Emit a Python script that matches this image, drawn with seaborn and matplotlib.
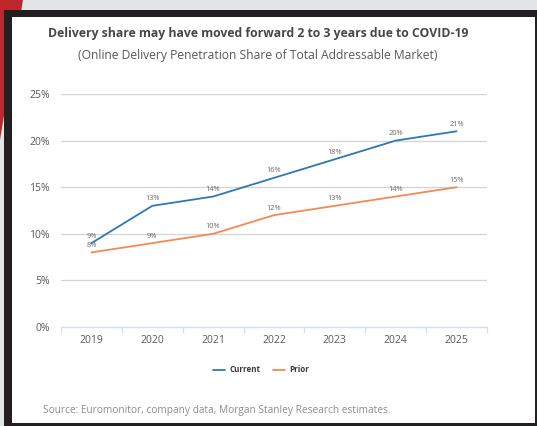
import matplotlib
matplotlib.use("Agg")
import matplotlib.pyplot as plt
from matplotlib.patches import Rectangle, Polygon
import numpy as np
import pandas as pd
import seaborn as sns

years = ["2019", "2020", "2021", "2022", "2023", "2024", "2025"]
current = [9, 13, 14, 16, 18, 20, 21]
prior = [8, 9, 10, 12, 13, 14, 15]
series_names = ["Current", "Prior"]
colors = ["#2f78b7", "#f58a50"]

title = "Delivery share may have moved forward 2 to 3 years due to COVID-19"
subtitle = "(Online Delivery Penetration Share of Total Addressable Market)"
source = "Source: Euromonitor, company data, Morgan Stanley Research estimates."

df = pd.DataFrame({
    "year": years * 2,
    "share": [v / 100 for v in current + prior],
    "series": [series_names[0]] * len(years) + [series_names[1]] * len(years),
})

sns.set_theme(style="white")
plt.rcParams["font.family"] = ["Open Sans", "DejaVu Sans"]

W, H = 537, 426
fig = plt.figure(figsize=(W / 100, H / 100), dpi=100)
fig.patch.set_facecolor("#e3e5e7")

def fx(px):
    return px / W

def fy(py):
    return 1 - py / H

# Slide decoration: red corner, dark frame and white card
fig.patches.append(Polygon([(fx(0), fy(0)), (fx(23), fy(0)), (fx(0), fy(140))],
                           closed=True, transform=fig.transFigure,
                           facecolor="#c0272d", edgecolor="none", zorder=0))
fig.patches.append(Rectangle((fx(4), fy(426)), fx(533), fy(10) - fy(426),
                             transform=fig.transFigure, facecolor="#231f20",
                             edgecolor="none", zorder=1))
fig.patches.append(Rectangle((fx(12), fy(423)), fx(535) - fx(12), fy(17) - fy(423),
                             transform=fig.transFigure, facecolor="white",
                             edgecolor="none", zorder=2))

ax = fig.add_axes([fx(61), fy(327), fx(487) - fx(61), fy(94) - fy(327)])
ax.set_facecolor("none")
ax.set_zorder(3)

sns.lineplot(data=df, x="year", y="share", hue="series", palette=colors,
             linewidth=1.3, ax=ax, legend=True, sort=False)

ax.set_ylim(0, 0.25)
ax.set_xlim(-0.5, len(years) - 0.5)
ax.set_yticks(np.arange(0, 0.26, 0.05))
ax.set_yticklabels([f"{int(round(v * 100))}%" for v in np.arange(0, 0.26, 0.05)])
ax.yaxis.grid(True, color="#d4d4d4", linewidth=0.9)
ax.set_axisbelow(True)
ax.set_xlabel("")
ax.set_ylabel("")

for side in ["top", "right", "left"]:
    ax.spines[side].set_visible(False)
ax.spines["bottom"].set_color("#d5dfe9")
ax.spines["bottom"].set_linewidth(1.0)

ax.set_xticks(np.arange(-0.5, len(years), 1.0), minor=True)
ax.tick_params(axis="x", which="minor", length=4.5, width=0.9, color="#d5dfe9", bottom=True)
ax.tick_params(axis="x", which="major", length=0, pad=6, labelsize=7.5, labelcolor="#595959")
ax.tick_params(axis="y", length=0, pad=8, labelsize=7.5, labelcolor="#595959")

# Value labels above each point
for vals in (current, prior):
    for i, v in enumerate(vals):
        ax.annotate(f"{v}%", (i, v / 100), xytext=(0, 2.5), textcoords="offset points",
                    ha="center", va="bottom", fontsize=5.3, color="#6a6a6a")

handles, labels = ax.get_legend_handles_labels()
ax.legend_.remove()
leg = fig.legend(handles, labels, loc="center", bbox_to_anchor=(fx(261), fy(370)),
                 ncol=2, frameon=False, handlelength=1.5, columnspacing=1.6,
                 handletextpad=0.5, prop={"size": 5.8, "weight": "bold"})
for t in leg.get_texts():
    t.set_color("#3a3a3a")
for line in leg.get_lines():
    line.set_linewidth(1.3)

fig.text(fx(258), fy(33), title, ha="center", va="center", fontsize=8.85,
         fontweight="bold", color="#474747")
fig.text(fx(258), fy(55), subtitle, ha="center", va="center", fontsize=8.7,
         color="#595959")
fig.text(fx(43), fy(410), source, ha="left", va="center", fontsize=7.3,
         color="#8c8c8c")

fig.savefig("out.png", dpi=100, facecolor=fig.get_facecolor())
